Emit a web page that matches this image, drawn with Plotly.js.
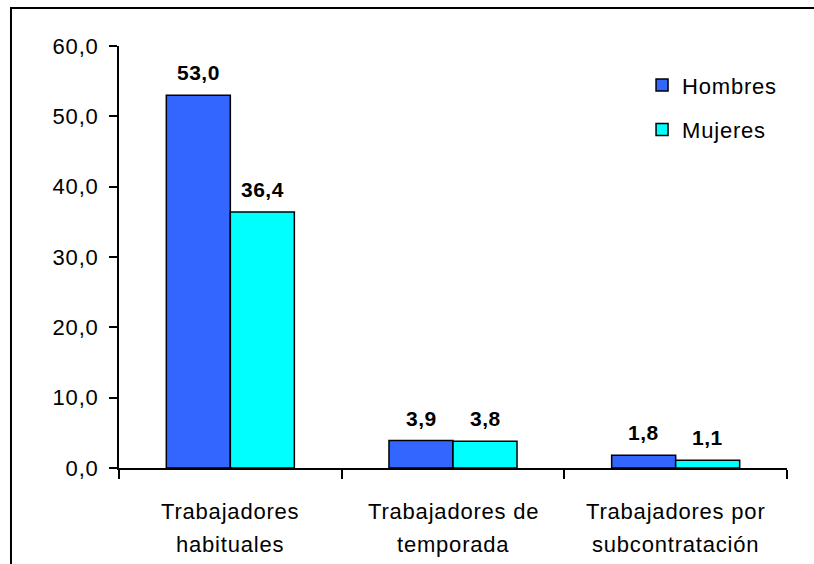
<!DOCTYPE html>
<html>
<head>
<meta charset="utf-8">
<script src="https://cdn.plot.ly/plotly-3.0.1.min.js"></script>
<style>
  html, body { margin: 0; padding: 0; background: #fff; }
  text { letter-spacing: 0.8px; }
</style>
</head>
<body>
<div id="chart" style="width:814px;height:564px;"></div>
<script>
const categories = ["Trabajadores habituales", "Trabajadores de temporada", "Trabajadores por subcontratación"];
const labelLine1 = ["Trabajadores", "Trabajadores de", "Trabajadores por"];
const labelLine2 = ["habituales", "temporada", "subcontratación"];
const hombres = [53.0, 3.9, 1.8];
const mujeres = [36.4, 3.8, 1.1];
const seriesNames = ["Hombres", "Mujeres"];
const yTicks = [0, 10, 20, 30, 40, 50, 60];

const FONT = "Liberation Sans, Arial, sans-serif";
const fmt = v => v.toFixed(1).replace(".", ",");

const traces = [
  {type: "bar", name: seriesNames[0], x: categories, y: hombres, legendgroup: "h",
   marker: {color: "#3366FF", line: {color: "#000", width: 1.5}}, hoverinfo: "skip"},
  {type: "bar", name: seriesNames[1], x: categories, y: mujeres, legendgroup: "m",
   marker: {color: "#00FFFF", line: {color: "#000", width: 1.5}}, hoverinfo: "skip"}
];

const annotations = [];
[hombres, mujeres].forEach((vals, si) => {
  vals.forEach((v, i) => {
    annotations.push({
      x: categories[i], y: v, xref: "x", yref: "y",
      text: '<span style="letter-spacing:0.5px"><b>' + fmt(v) + '</b></span>',
      showarrow: false, yanchor: "bottom", xanchor: "center",
      xshift: si === 0 ? -32 : 32, yshift: 9,
      font: {family: FONT, size: 21, color: "#000"}
    });
  });
});
categories.forEach((c, i) => {
  annotations.push({x: c, y: -0.102, xref: "x", yref: "paper", text: labelLine1[i],
    showarrow: false, yanchor: "middle", xanchor: "center",
    font: {family: FONT, size: 22, color: "#000"}});
  annotations.push({x: c, y: -0.182, xref: "x", yref: "paper", text: labelLine2[i],
    showarrow: false, yanchor: "middle", xanchor: "center",
    font: {family: FONT, size: 22, color: "#000"}});
});

const layout = {
  width: 814, height: 564,
  margin: {l: 119, r: 27, t: 46, b: 96, pad: 0},
  paper_bgcolor: "#fff", plot_bgcolor: "#fff",
  font: {family: FONT, size: 22, color: "#000"},
  barmode: "group", bargap: 0.425, bargroupgap: 0,
  showlegend: true,
  legend: {x: 0.783, y: 0.957, xanchor: "left", yanchor: "top",
    font: {family: FONT, size: 22, color: "#000"}, tracegroupgap: 13,
    bgcolor: "rgba(0,0,0,0)"},
  xaxis: {type: "category", showticklabels: false, showline: true, linecolor: "#000", linewidth: 2,
    ticks: "outside", ticklen: 9, tickwidth: 2, tickcolor: "#000", tickson: "boundaries",
    showgrid: false, zeroline: false, fixedrange: true},
  yaxis: {range: [0, 60], tickvals: yTicks, ticktext: yTicks.map(fmt), showline: true,
    linecolor: "#000", linewidth: 2, ticks: "outside", ticklen: 8, tickwidth: 2, tickcolor: "#000",
    ticklabelstandoff: 6, showgrid: false, zeroline: false, fixedrange: true,
    tickfont: {family: FONT, size: 22, color: "#000"}},
  annotations: annotations,
  shapes: [{type: "rect", xref: "paper", yref: "paper", x0: -0.1617, x1: 1.3, y0: -0.6, y1: 1.09,
    line: {color: "#000", width: 2}, fillcolor: "rgba(0,0,0,0)", layer: "below"}]
};

Plotly.newPlot("chart", traces, layout, {staticPlot: true, displayModeBar: false});
</script>
</body>
</html>
